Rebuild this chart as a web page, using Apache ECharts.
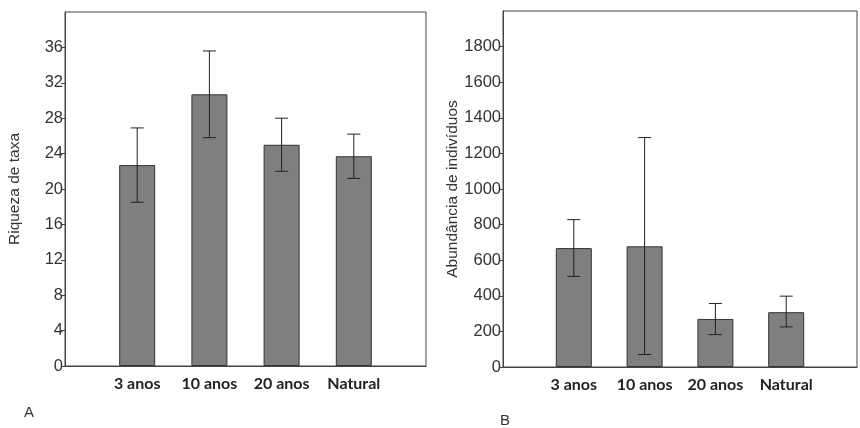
<!DOCTYPE html>
<html><head><meta charset="utf-8">
<script src="https://cdn.jsdelivr.net/npm/echarts@6/dist/echarts.min.js"></script>
<style>html,body{margin:0;padding:0;background:#fff}#c{width:860px;height:428px}</style>
</head><body><div id="c"></div>
<script>
const categories = ['', '3 anos', '10 anos', '20 anos', 'Natural', ''];
const riqueza = [null, 22.7, 30.7, 25.0, 23.7, null];
const riquezaLow = [18.5, 25.8, 22.0, 21.2];
const riquezaHigh = [26.9, 35.6, 28.0, 26.2];
const abundancia = [null, 668, 678, 270, 308, null];
const abundanciaLow = [509, 70, 182, 225];
const abundanciaHigh = [828, 1289, 357, 398];
const panelLabels = ['A', 'B'];

function errData(lo, hi) { return lo.map((v, i) => [i + 1, v, hi[i]]); }
function errRender(params, api) {
  const x = api.value(0);
  const p1 = api.coord([x, api.value(1)]);
  const p2 = api.coord([x, api.value(2)]);
  const hw = 6.5;
  const st = { stroke: '#222', lineWidth: 1 };
  return { type: 'group', children: [
    { type: 'line', shape: { x1: p1[0], y1: p1[1], x2: p2[0], y2: p2[1] }, style: st },
    { type: 'line', shape: { x1: p1[0] - hw, y1: p1[1], x2: p1[0] + hw, y2: p1[1] }, style: st },
    { type: 'line', shape: { x1: p2[0] - hw, y1: p2[1], x2: p2[0] + hw, y2: p2[1] }, style: st }
  ]};
}
const axisCol = '#444';
function xAx(gi) {
  return { type: 'category', gridIndex: gi, data: categories, boundaryGap: false,
    axisLine: { lineStyle: { color: axisCol, width: 1 } }, axisTick: { show: false },
    axisLabel: { interval: 0, hideOverlap: false, fontFamily: 'Lato', fontWeight: 'bold', fontSize: 16, color: '#222', margin: 10 },
    splitLine: { show: false } };
}
function yAx(gi, max, interval, name) {
  return { type: 'value', gridIndex: gi, min: 0, max: max, interval: interval,
    name: name, nameLocation: 'middle', nameGap: 42,
    nameTextStyle: { fontFamily: 'Liberation Sans', fontSize: 15.5, color: '#333' },
    axisLine: { show: true, lineStyle: { color: axisCol, width: 1 } },
    axisTick: { show: true, length: 4, lineStyle: { color: axisCol } },
    axisLabel: { fontFamily: 'Liberation Sans', fontSize: 16.5, color: '#333', margin: 2, showMaxLabel: false,
      formatter: v => String(v) },
    splitLine: { show: false } };
}
const barStyle = { color: '#7f7f7f', borderColor: '#333', borderWidth: 1 };
const chart = echarts.init(document.getElementById('c'), null, { renderer: 'canvas' });
chart.setOption({
  animation: false,
  backgroundColor: '#fff',
  grid: [
    { left: 65, top: 12, width: 361, bottom: 62, show: true, borderColor: axisCol, borderWidth: 1 },
    { left: 503, top: 11, width: 363, bottom: 61, show: true, borderColor: axisCol, borderWidth: 1 }
  ],
  xAxis: [xAx(0), xAx(1)],
  yAxis: [yAx(0, 40, 4, 'Riqueza de taxa'), yAx(1, 2000, 200, 'Abundância de indivíduos')],
  series: [
    { type: 'bar', xAxisIndex: 0, yAxisIndex: 0, data: riqueza, barWidth: 36, itemStyle: barStyle },
    { type: 'bar', xAxisIndex: 1, yAxisIndex: 1, data: abundancia, barWidth: 36, itemStyle: barStyle },
    { type: 'custom', xAxisIndex: 0, yAxisIndex: 0, data: errData(riquezaLow, riquezaHigh), renderItem: errRender, encode: { x: 0, y: [1, 2] }, z: 5 },
    { type: 'custom', xAxisIndex: 1, yAxisIndex: 1, data: errData(abundanciaLow, abundanciaHigh), renderItem: errRender, encode: { x: 0, y: [1, 2] }, z: 5 }
  ],
  graphic: [
    { type: 'text', left: 24, top: 405, style: { text: panelLabels[0], font: '15px "Liberation Sans"', fill: '#333' } },
    { type: 'text', left: 500, top: 413, style: { text: panelLabels[1], font: '15px "Liberation Sans"', fill: '#333' } }
  ]
});
</script></body></html>
